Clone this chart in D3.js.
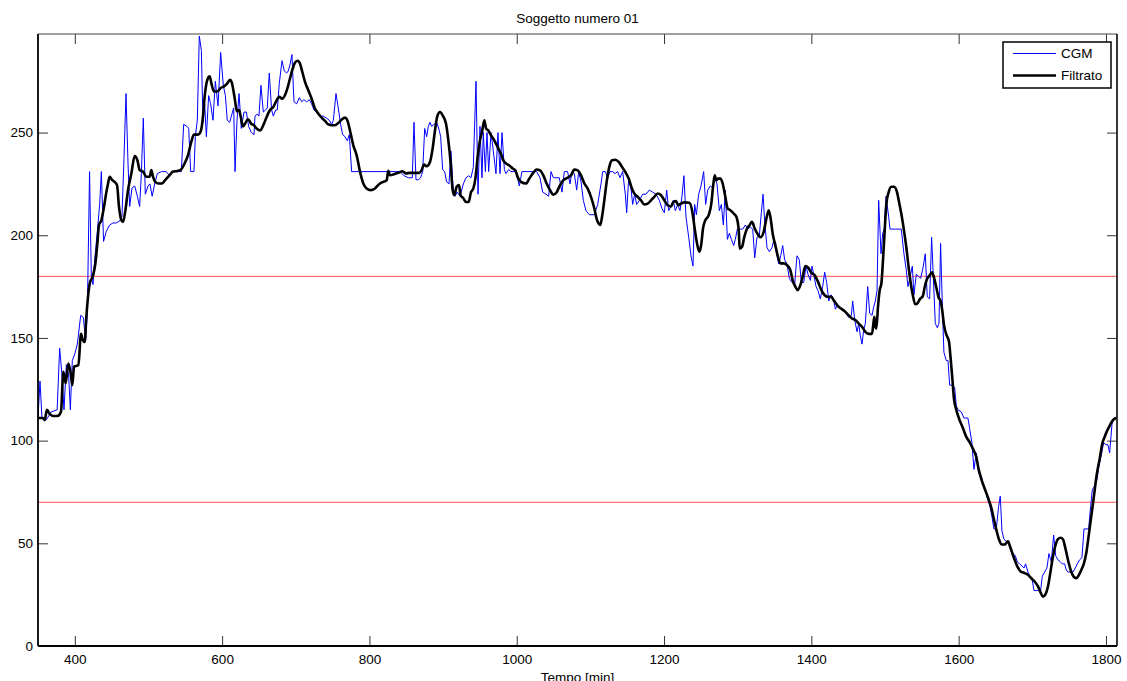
<!DOCTYPE html>
<html>
<head>
<meta charset="utf-8">
<script src="https://cdn.jsdelivr.net/npm/d3@7"></script>
<style>
  html, body { margin: 0; padding: 0; background: #fff; }
  svg text { font-family: "Liberation Sans", Arial, Helvetica, sans-serif; fill: #000; }
</style>
</head>
<body>
<svg id="chart" width="1127" height="681"></svg>
<script>
// Raw CGM trace (time in minutes, glucose in mg/dL)
const cgmTime = [350,352.7,355.4,361,368,376,379.4,382.6,385.3,388.5,391.6,393.9,396.6,399.8,403.4,408,411.6,414.7,417,420,422.4,424.7,427,430.6,433.7,436,439,442.8,447.3,451.8,456.4,461,464,466.8,469.5,472.2,474.5,477.6,481.3,484.9,488,490.3,493,495.7,499.4,502,505,508.4,512,517.5,524,528.8,533.3,544.6,547.8,552.3,554.6,557.3,561.8,563.6,566.3,569,571.8,574,576.3,578.6,581.7,584.4,587.6,590.8,594.4,598,601.6,604.4,607,610.2,612.5,615.7,617.5,620.2,623,626,629.7,632.9,636,639.7,643.3,
644.6,647.8,650,652.7,655.9,659,661.3,664,667.2,669.5,672.7,674.9,677.6,681.3,684.4,687.6,689.8,692.1,694.8,697.5,701.2,704.8,708,711.1,714.7,718.4,721.5,724.7,728.3,732.8,737.4,741.9,745.5,748.7,751,754.6,757.7,760.9,763.6,766.8,770,772.7,775.8,841.5,846.9,852.8,858.2,860.5,863.2,866.4,869.5,872.3,875,877.7,880,882.2,884.5,887.6,891.3,894.9,896.7,899.4,902.1,904.8,908,910.7,913.4,916.1,919.3,922.9,927.5,
931.1,934.7,937.9,941,944.7,947.4,950.1,952.8,954.6,957.4,959.6,961.9,965,968.2,971.8,974.5,977.3,980,983.2,985.4,989,992.2,999,1003.5,1007.1,1027.1,1031.6,1035.2,1039.7,1043.3,1046.5,1049.7,1053.3,1057.8,1061.4,1064.6,1069.1,1072.3,1075,1078.2,1081.4,1084.1,1087.3,1090.4,1094,1098.6,1105.4,1109.9,1114.4,1116.7,1120.3,1123.5,1126.6,1130.2,1133.4,1137,1140.2,1143.8,1147.4,1149.3,1151.9,1155.1,1157.4,1160.1,1162.8,1166.5,1171,1175.5,1180,1184.6,1189.1,1193.6,1197.2,1200.4,1203.6,1206.3,1209.4,1212.6,1215.3,1218.5,1221.7,1224.4,1227,
1229.8,1233.5,1236.6,1239.3,1241.6,1243.9,1247,1250.2,1253.8,1256.5,1259.3,1262.9,1266,1268.8,1271.9,1275.1,1277.8,1280.5,1283.2,1286,1288.7,1291.4,1294.6,1296.8,1299.5,1303.6,1306.8,1310.4,1313.6,1317.2,1320.4,1323.1,1326.2,1329.4,1332.1,1334.4,1336.6,1339.8,1343,1346.6,1349.3,1352,1355.7,1358.4,1361.1,1363.8,1367,1370.1,1373.8,1377.4,1380.5,1383.7,1386.4,1389.6,1392.8,1395.5,1398.7,1400.9,1403.2,1406.4,1409.1,1412.2,1415.4,1418.1,1420.8,1423.6,1426.7,1429.9,1432.6,1435.3,1438,1440.8,1443.9,1447.1,1450.7,1454.3,1456.1,1458.8,1462,1464.3,1466.5,1468.8,1471.1,1473.3,1476.5,1479.2,1482.4,1484.6,1486.9,1489.2,1491.4,1494.6,1496.9,1499.1,1501.4,1505,1506.8,1514.1,
1517.6,1522.1,1525.7,1528.9,1531.2,1534.3,1537.1,1539.3,1542.5,1545.7,1548.4,1551.5,1554.7,1557.4,1560.6,1563.3,1565.6,1568.3,1571,1573.3,1575.5,1577.8,1580,1583.2,1585.5,1587.8,1591.4,1594.5,1596.8,1599.1,1603.6,1607.2,1612.6,1614.9,1618,1620.8,1623.9,1627.1,1630.8,1633.5,1636.6,1639.8,1642.5,1645.2,1647.9,1651.1,1654.3,1656.5,1658.8,1661.5,1664.7,1667.9,1670.6,1673.7,1676.9,1679.6,1682.8,1685.9,1688.7,1690.9,1694.1,1696.8,1699.5,1702.3,1705.4,1708.6,1711.3,1713.6,1716.7,1719.9,1722.6,1725.8,1729,1731.7,1734.8,1738,1740.7,1743.9,1746.2,1748.4,1755.2,1758.4,1761.1,1764.3,1767.4,1770.2,1776.5,1779.2,1781.5,1784.6,1787.8,1790.5,1793.7,1796.9,1800,1802.7,1805,1808.2,1810.9,1815];
const cgmValue = [111,129,111,110,114,115,145,132,115,137,132,115,139,142,147,161,160,149,163,231,180,176,188,202,215,231,197,202,205,206,206,207,209,238,269,235,214,223,224,219,214,230,257,220,224,225,219,225,230,231,231,229,231,231,254,253,252,231,231,248,256,297,290,255,264,248,268,264,256,275,263,289,273,268,256,255,258,262,231,256,269,252,260,260,253,250,249,
258,259,258,273,260,261,262,279,261,258,261,261,274,285,280,279,280,283,288,265,264,267,265,266,265,266,264,261,260,258,258,257,256,254,256,269,262,254,249,248,246,249,231,231,229,228,228,255,227,227,228,231,252,248,253,255,253,254,255,251,248,232,231,226,225,241,224,219,221,219,225,
228,229,228,233,275,220,253,228,250,231,250,231,250,241,230,250,230,250,232,230,232,231,231,224,231,231,228,221,220,219,231,228,228,228,221,231,231,225,231,230,222,231,226,217,212,210,210,215,225,231,231,228,231,231,230,231,228,231,220,211,227,223,215,220,215,217,220,220,222,221,220,217,213,211,222,212,214,217,212,215,212,219,229,
209,199,190,185,215,210,220,224,231,215,222,224,223,228,225,212,215,205,222,198,201,198,195,198,203,203,203,205,203,204,203,189,199,200,211,220,207,194,192,194,198,193,186,190,195,188,186,179,177,176,190,188,177,177,185,181,178,185,181,175,173,169,175,182,177,168,171,169,164,166,165,164,164,162,160,161,168,159,153,157,151,147,154,157,175,162,161,165,168,173,217,191,201,203,219,209,203,203,
203,203,191,183,175,180,185,171,181,180,179,184,191,170,169,199,180,157,155,157,196,166,143,139,139,127,127,126,117,115,114,111,111,106,99,86,94,84,83,78,75,71,68,63,57,57,68,73,56,52,51,50,47,45,44,41,40,39,38,40,36,34,33,27,27,27,27,34,36,38,45,41,54,44,42,41,40,40,37,36,36,38,40,42,43,57,57,68,76,78,81,88,93,99,98,98,94,108,111,111];

// Filtered trace
const filtTime = [350,356.8,359,362.2,365.8,370.4,376.3,381.2,384.4,387.6,391.2,394.4,396.6,398.9,404.8,408.4,410.7,413.4,415.6,417.9,420.2,424.7,427.8,430.6,432.8,436,439.6,442.8,445,447.3,450.5,454.1,457.3,460,463.2,465.4,468.6,472.2,476.7,481.3,484.9,488,492.6,497.1,501.6,503.9,506.1,509.3,513.8,518.4,522.9,528.8,533.3,539.2,543.7,549.1,553.7,558.2,561.8,567.2,570.9,574,576.3,579.9,583.1,585.4,589,593.5,598,602.6,607.1,610.7,613.4,617,620.2,622.9,625.2,628.3,631.5,635.1,639.7,
643.2,646.9,651.4,655.9,660.4,665,669.5,674,677.6,681.3,685.3,688.5,692.1,695.7,698.9,702.5,705.7,708.9,712.5,717,721.5,726,730.6,735.1,739.6,744.2,748.7,753.2,757.7,762.3,766.8,770,773.6,778.1,782.6,787.2,791.7,796.2,801.6,807.5,813.4,818.8,823.4,825.6,827.9,833.3,839.2,845.1,849.6,855.1,861.8,867.7,870.9,874.1,877.7,882.2,885.8,889,892.2,895.8,899.4,903.9,907.1,910.3,913,915.2,918.4,921.6,923.8,927.5,
931.1,934.7,937.9,941,943.8,946.9,950.1,952.8,956,958.3,961.4,965,968.2,971.8,975,978.6,981.8,985.4,990,994.5,998.1,1001.2,1005.8,1012.6,1017.1,1021.6,1027.1,1031.6,1036.1,1040.6,1045.2,1049.7,1054.2,1058.7,1063.3,1069.1,1073.7,1078.2,1082.7,1087.3,1091.8,1096.3,1100.8,1105.4,1108.5,1111.2,1113.5,1115.8,1118.9,1122.1,1125.7,1129.4,1133.9,1138.4,1142.9,1147.4,1152,1156.5,1159.7,1164.2,1168.7,1173.2,1177.8,1182.3,1186.8,1191.4,1195.9,1200.4,1204.9,1209.4,1212.6,1216.2,1219.4,1223,
1227.6,1234.4,1238,1241.6,1244.8,1247.9,1250.7,1252.9,1256.1,1260.6,1264.2,1266.5,1268.8,1271,1273.3,1276.5,1279.6,1283.2,1286.4,1290,1294.6,1298.2,1301.4,1302.7,1305.9,1309,1312.7,1316.3,1319.4,1323.1,1326.7,1330.8,1335.3,1338.5,1342.1,1344.8,1347.5,1351.1,1354.7,1357.9,1362.4,1367,1371.5,1374.7,1378.3,1381.5,1385.1,1388.2,1391.9,1395.5,1400,1404.5,1409.1,1413.6,1418.1,1422.6,1427.2,1430.3,1433.5,1437.1,1441.6,1446.2,1450.7,1455.2,1459.8,1464.3,1468.8,1473.3,1477.9,1482.4,1484.2,1485.6,1487,1488.3,1490.5,1492.8,1495.1,1497.3,1499.6,1501.9,1505,1508.6,1512.2,1516.3,
1519.5,1522.1,1525.7,1528.9,1532.1,1534.8,1537.9,1541.1,1543.9,1547.5,1551.5,1553.8,1557,1560.6,1563.8,1566.5,1569.7,1572.8,1575.5,1577.8,1580,1583.2,1586.8,1589.1,1591.4,1593.6,1596.8,1601.3,1605.9,1610.4,1614.9,1619.4,1624,1627.1,1630.8,1635.3,1639.8,1644.3,1647.9,1651.6,1654.7,1658.8,1662.4,1667,1669.7,1672.8,1676,1679.6,1684.2,1689.6,1694.1,1698.6,1703.2,1707.7,1711.3,1714.5,1717.7,1721.3,1724.4,1728.1,1731.7,1734.8,1738.5,1741.6,1744.8,1748.4,1752.1,1756.1,1759.7,1763.4,1766.5,1770.2,1773.3,1776.5,1780.1,1783.7,1787.3,1791.4,1795,1798.2,1801.8,1805.4,1809.5,1814];
const filtValue = [111,111,110,115,113,112,112,114,133.5,128,137.5,132.7,127,136,136.7,152,149,148,160,170,176.4,180.4,186,196,205,207.3,213.8,221,225,228.5,227,226,224.4,213.8,207.3,206.5,212,222,230,238.6,236.6,231.8,231,228.5,228.5,231.8,228.5,226,225.2,225.2,227,229.3,231,231.3,231.8,235,239,245.6,249,249,250.5,257.8,267.6,275.7,277.4,274,270,270,271.7,272.5,274,275.7,274,266.8,260.3,261,257.8,253,254.6,256.5,254.2,
253.6,252,251,253.6,257.6,261,262.5,265.7,267.4,266.5,268.2,271.4,276.3,281,284,285,283.6,279.5,274.7,270.6,266.5,261.7,259.2,257.3,255.7,254,253.6,253.6,254.7,256.3,257.3,256,251,243.8,239,231,225.2,222.8,222,222.8,225,226,226.8,231.4,229.2,229.7,230.4,231.2,230.1,230.4,230.4,230.4,231.7,234.4,233.6,235.7,242.2,251,258,260,258.4,254.4,246.3,235,222,219.5,223.6,224.4,219.5,218,
216.2,216.2,221,222.7,227.6,238,246.2,250.3,256,252,251,248.7,247,244.6,242.2,239.7,236.5,235,234,232.5,231.6,228.4,226,225.2,227.6,230,232,231.6,229.2,225.2,222,219.8,221,224.3,226.8,228,229.2,232,231.6,229.2,225.2,222.7,218.7,213,208,205.7,205,209,217,226,233.3,236.5,236.8,235.7,233.3,230.8,227.6,222.7,220.3,218.7,217,215,215.4,217,218.7,220.3,219.5,217,214.6,214,216.2,216.6,214.6,215.4,
216,215.8,212.2,203.3,196,192,196,203.3,207.3,209.8,215.4,223.6,229.2,226.8,227.6,227.6,225.2,218.7,213,212.2,210.6,209,202.5,193.5,194.4,199.2,203.3,205,206.5,203.3,200.8,199,201.7,207.3,212.2,208,200.8,195.2,189.5,186.3,186.3,185.4,183,178,175,173.3,175.7,179.8,185,184.3,181.7,180.6,177.3,173.3,170.8,170,170,168.4,166.8,165.2,164,162.7,161,159.5,158.7,157,155.4,153,152,152,157,160.3,155.4,154.6,165.2,173.3,176.5,188,202.5,215.4,221,223.6,223.6,221,
215.4,210.6,202.5,194.3,184.4,177,170.5,166.4,166.8,169,170.5,174.6,178.7,180.4,182,179.5,174.6,169.7,168,163.2,156.6,151.7,148.4,140.2,130.4,120.6,115,110,106,101.8,99.3,96,92,86.2,81.3,76.7,72.3,67.4,61.7,56,52,49.4,49.4,51,48.6,45.3,42,38.8,36.3,35.5,34.7,33,31.4,29,26,24,25,29,35.5,43.7,49.4,52,52.7,52,47.8,42,37,33.8,33,34.7,37,40.4,45.3,53.5,63.3,73,83,91,98.5,101.8,105,107.5,110,111];

// Glycaemic thresholds (mg/dL)
const thresholds = [180, 70];

// Axis ticks
const xTicks = [400, 600, 800, 1000, 1200, 1400, 1600, 1800];
const yTicks = [0, 50, 100, 150, 200, 250];

const title = "Soggetto numero 01";
const xLabel = "Tempo [min]";
const seriesNames = ["CGM", "Filtrato"];

// Layout
const margin = { left: 38, top: 34, right: 10, bottom: 35 };
const W = 1127, H = 681;
const iw = W - margin.left - margin.right;   // 1079
const ih = H - margin.top - margin.bottom;   // 612

const svg = d3.select("#chart");
const g = svg.append("g").attr("transform", `translate(${margin.left},${margin.top})`);

const x = d3.scaleLinear().domain([350, 1815]).range([0, iw]);
const y = d3.scaleLinear().domain([0, 298]).range([ih, 0]);

svg.append("defs").append("clipPath").attr("id", "plotclip")
  .append("rect").attr("x", 0).attr("y", 0).attr("width", iw).attr("height", ih);

const plot = g.append("g").attr("clip-path", "url(#plotclip)");

// Threshold lines
plot.selectAll("line.thr").data(thresholds).join("line")
  .attr("class", "thr")
  .attr("x1", 0).attr("x2", iw)
  .attr("y1", d => y(d)).attr("y2", d => y(d))
  .attr("stroke", "#ff3030").attr("stroke-width", 1).attr("stroke-opacity", 0.85);

// CGM trace
const cgm = cgmTime.map((t, i) => [t, cgmValue[i]]);
plot.append("path").datum(cgm)
  .attr("fill", "none").attr("stroke", "#0000ff").attr("stroke-width", 1)
  .attr("stroke-linejoin", "round")
  .attr("d", d3.line().x(d => x(d[0])).y(d => y(d[1])));

// Filtered trace
const filt = filtTime.map((t, i) => [t, filtValue[i]]);
plot.append("path").datum(filt)
  .attr("fill", "none").attr("stroke", "#000").attr("stroke-width", 2.6)
  .attr("stroke-linejoin", "round").attr("stroke-linecap", "round")
  .attr("d", d3.line().curve(d3.curveMonotoneX).x(d => x(d[0])).y(d => y(d[1])));

// Axes: ticks point inward on all four sides
const fontSize = "13.5px";
const xb = g.append("g").attr("transform", `translate(0,${ih})`)
  .call(d3.axisBottom(x).tickValues(xTicks).tickFormat(d3.format("d")).tickSizeInner(-10).tickSizeOuter(0).tickPadding(8));
const xt = g.append("g")
  .call(d3.axisTop(x).tickValues(xTicks).tickFormat("").tickSizeInner(-10).tickSizeOuter(0));
const yl = g.append("g")
  .call(d3.axisLeft(y).tickValues(yTicks).tickFormat(d3.format("d")).tickSizeInner(-10).tickSizeOuter(0).tickPadding(5));
const yr = g.append("g").attr("transform", `translate(${iw},0)`)
  .call(d3.axisRight(y).tickValues(yTicks).tickFormat("").tickSizeInner(-10).tickSizeOuter(0));

[xb, xt, yl, yr].forEach(a => {
  a.select(".domain").remove();
  a.selectAll(".tick line").attr("stroke", "#333").attr("stroke-width", 1);
  a.selectAll(".tick text").style("font-size", fontSize).attr("fill", "#000");
});

// Axes box
g.append("line").attr("x1", 0).attr("x2", iw).attr("y1", 0).attr("y2", 0).attr("stroke", "#444").attr("stroke-width", 1);
g.append("line").attr("x1", 0).attr("x2", iw).attr("y1", ih).attr("y2", ih).attr("stroke", "#000").attr("stroke-width", 1.8);
g.append("line").attr("x1", 0).attr("x2", 0).attr("y1", 0).attr("y2", ih).attr("stroke", "#000").attr("stroke-width", 1.8);
g.append("line").attr("x1", iw).attr("x2", iw).attr("y1", 0).attr("y2", ih).attr("stroke", "#222").attr("stroke-width", 1.8);

// Title and axis label
svg.append("text").attr("x", margin.left + iw / 2).attr("y", 22.5)
  .attr("text-anchor", "middle").style("font-size", fontSize).text(title);
svg.append("text").attr("x", margin.left + iw / 2).attr("y", 681.5)
  .attr("text-anchor", "middle").style("font-size", fontSize).text(xLabel);

// Legend
const lg = svg.append("g").attr("transform", "translate(1003,42)");
lg.append("rect").attr("width", 108).attr("height", 46)
  .attr("fill", "#fff").attr("stroke", "#000").attr("stroke-width", 1.5);
const legStyles = [
  { color: "#0000ff", width: 1, y: 11.5 },
  { color: "#000", width: 2.6, y: 33.5 }
];
seriesNames.forEach((name, i) => {
  const s = legStyles[i];
  lg.append("line").attr("x1", 10).attr("x2", 53).attr("y1", s.y).attr("y2", s.y)
    .attr("stroke", s.color).attr("stroke-width", s.width);
  lg.append("text").attr("x", 58).attr("y", s.y).attr("dy", "0.35em")
    .style("font-size", fontSize).text(name);
});
</script>
</body>
</html>
